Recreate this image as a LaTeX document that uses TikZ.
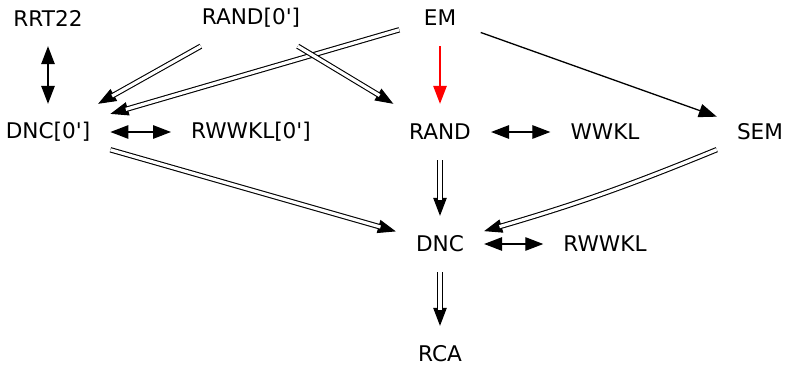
\documentclass[tikz,border=0pt]{standalone}
\usepackage{fontspec}
\setmainfont{DejaVu Sans}
\usetikzlibrary{arrows.meta}
\begin{document}
\begin{tikzpicture}[x=1pt,y=-1pt,
  >={Triangle[length=18pt,width=13.5pt]},
  lbl/.style={rectangle, inner xsep=20pt, inner ysep=0pt,
    minimum width=81pt, minimum height=56pt,
    font=\fontsize{21.6}{25}\selectfont},
  one/.style={line width=1.3pt, ->},
  both/.style={line width=1.3pt, <->},
  dblhead/.style={line width=1pt, ->},
  dbl/.style={line width=1.1pt, double, double distance=3.2pt, shorten >=16pt},
]
\useasboundingbox (0,0) rectangle (785,367);

% nodes
\node[lbl] (rrt)    at (48,18)   {RRT22};
\node[lbl] (randz)  at (251,18)  {RAND[0\textquotesingle]};
\node[lbl] (em)     at (440,18)  {EM};
\node[lbl] (dncz)   at (48,132)  {DNC[0\textquotesingle]};
\node[lbl] (rwwklz) at (251,132) {RWWKL[0\textquotesingle]};
\node[lbl] (rand)   at (440,132) {RAND};
\node[lbl] (wwkl)   at (605,132) {WWKL};
\node[lbl] (sem)    at (760,132) {SEM};
\node[lbl] (dnc)    at (440,244) {DNC};
\node[lbl] (rwwkl)  at (605,244) {RWWKL};
\node[lbl] (rca)    at (440,354) {RCA};

% equivalences
\draw[both] (rrt) -- (dncz);
\draw[both] (dncz) -- (rwwklz);
\draw[both] (rand) -- (wwkl);
\draw[both] (dnc) -- (rwwkl);

% single implications
\draw[one, red] (em) -- (rand);
\draw[one] (em) -- (sem);

% double implications: head first, then the double shaft over it
\draw[dblhead] (randz) -- (dncz);
\draw[dbl]     (randz) -- (dncz);
\draw[dblhead] (em) -- (dncz);
\draw[dbl]     (em) -- (dncz);
\draw[dblhead] (randz) -- (rand);
\draw[dbl]     (randz) -- (rand);
\draw[dblhead] (rand) -- (dnc);
\draw[dbl]     (rand) -- (dnc);
\draw[dblhead] (dncz) -- (dnc);
\draw[dbl]     (dncz) -- (dnc);
\draw[dblhead] (sem) to[bend left=3] (dnc);
\draw[dbl]     (sem) to[bend left=3] (dnc);
\draw[dblhead] (dnc) -- (rca);
\draw[dbl]     (dnc) -- (rca);
\end{tikzpicture}
\end{document}
